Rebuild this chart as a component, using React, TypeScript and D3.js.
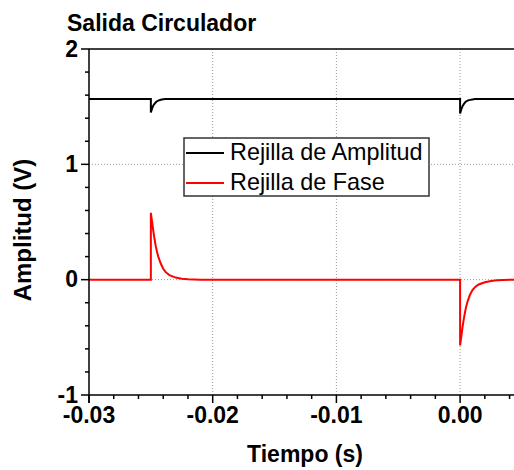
import React from "react";
import * as d3 from "d3";

const title = "Salida Circulador";
const xLabel = "Tiempo (s)";
const yLabel = "Amplitud (V)";
const seriesNames = ["Rejilla de Amplitud", "Rejilla de Fase"];
const seriesColors = ["#000000", "#ff0000"];

const xStart = -0.03;
const xEnd = 0.005;
const xMajorTicks = [-0.03, -0.02, -0.01, 0.0];
const xTickLabels = ["-0.03", "-0.02", "-0.01", "0.00"];
const xMinorTicks = [-0.028, -0.026, -0.024, -0.022, -0.018, -0.016, -0.014, -0.012, -0.008, -0.006, -0.004, -0.002, 0.002, 0.004];
const yMajorTicks = [-1, 0, 1, 2];
const yTickLabels = ["-1", "0", "1", "2"];
const yMinorTicks = [-0.8, -0.6, -0.4, -0.2, 0.2, 0.4, 0.6, 0.8, 1.2, 1.4, 1.6, 1.8];

// Pulse instants (s)
const pulseTimes = [-0.025, 0.0];
// Time offsets after each pulse (s)
const pulseOffsets = [0, 0.0001, 0.0002, 0.0003, 0.0004, 0.0005, 0.0006, 0.0008, 0.001, 0.0012, 0.0015, 0.002, 0.0025, 0.003, 0.004];

// Amplitude grating (black)
const ampBaseline = 1.567;
const ampPulse1 = [1.45, 1.485, 1.51, 1.525, 1.538, 1.547, 1.553, 1.56, 1.564, 1.566, 1.567, 1.567, 1.567, 1.567, 1.567];
const ampPulse2 = [1.44, 1.478, 1.505, 1.522, 1.536, 1.546, 1.552, 1.559, 1.563, 1.566, 1.567, 1.567, 1.567, 1.567, 1.567];

// Phase grating (red)
const phaseBaseline = 0;
const phasePulse1 = [0.58, 0.5, 0.42, 0.35, 0.29, 0.24, 0.2, 0.14, 0.095, 0.065, 0.04, 0.018, 0.008, 0.003, 0];
const phasePulse2 = [-0.57, -0.49, -0.41, -0.34, -0.28, -0.23, -0.19, -0.13, -0.09, -0.065, -0.042, -0.022, -0.012, -0.006, 0];

const W = 514;
const H = 470;
const left = 89;
const top = 49;
const bottom = 395;
const pxPerUnitX = 12370;

const FONT = "'Liberation Sans', Arial, Helvetica, sans-serif";

function buildSeries(baseline: number, pulses: number[][]): [number, number][] {
  const pts: [number, number][] = [[xStart, baseline]];
  pulseTimes.forEach((t0, i) => {
    pts.push([t0, baseline]);
    pulseOffsets.forEach((o, j) => pts.push([t0 + o, pulses[i][j]]));
  });
  pts.push([xEnd, baseline]);
  return pts;
}

export default function App() {
  const x = d3.scaleLinear().domain([xStart, xEnd]).range([left, left + (xEnd - xStart) * pxPerUnitX]);
  const y = d3.scaleLinear().domain([-1, 2]).range([bottom, top]);
  const line = d3
    .line<[number, number]>()
    .x((d) => x(d[0]))
    .y((d) => y(d[1]));

  const ampData = buildSeries(ampBaseline, [ampPulse1, ampPulse2]);
  const phaseData = buildSeries(phaseBaseline, [phasePulse1, phasePulse2]);

  const gridX = xMajorTicks.filter((v) => v !== xStart);
  const gridY = yMajorTicks.filter((v) => v !== -1 && v !== 2);

  const legX = 184;
  const legY = 138;
  const legW = 245;
  const legH = 58;

  return (
    <svg
      width={W}
      height={H}
      style={{ position: "fixed", left: 0, top: 0, background: "#fff" }}
      fontFamily={FONT}
    >
      <rect x={0} y={0} width={W} height={H} fill="#fff" />
      {/* grid */}
      {gridX.map((v) => (
        <line key={"gx" + v} x1={x(v)} x2={x(v)} y1={top} y2={bottom} stroke="#999" strokeWidth={1} strokeDasharray="1,2" />
      ))}
      {gridY.map((v) => (
        <line key={"gy" + v} x1={left} x2={W} y1={y(v)} y2={y(v)} stroke="#999" strokeWidth={1} strokeDasharray="1,2" />
      ))}

      {/* data */}
      <path d={line(ampData) || ""} fill="none" stroke={seriesColors[0]} strokeWidth={2} />
      <path d={line(phaseData) || ""} fill="none" stroke={seriesColors[1]} strokeWidth={2} />

      {/* axes */}
      <line x1={left} x2={W} y1={top} y2={top} stroke="#000" strokeWidth={1.5} />
      <line x1={left} x2={W} y1={bottom} y2={bottom} stroke="#000" strokeWidth={1.5} />
      <line x1={left} x2={left} y1={top} y2={bottom + 8} stroke="#000" strokeWidth={1.5} />
      {xMajorTicks.map((v) => (
        <line key={"xt" + v} x1={x(v)} x2={x(v)} y1={bottom} y2={bottom + 8} stroke="#000" strokeWidth={1.5} />
      ))}
      {xMinorTicks.map((v) => (
        <line key={"xm" + v} x1={x(v)} x2={x(v)} y1={bottom} y2={bottom + 4} stroke="#000" strokeWidth={1.5} />
      ))}
      {yMajorTicks.map((v) => (
        <line key={"yt" + v} x1={left - 8} x2={left} y1={y(v)} y2={y(v)} stroke="#000" strokeWidth={1.5} />
      ))}
      {yMinorTicks.map((v) => (
        <line key={"ym" + v} x1={left - 4} x2={left} y1={y(v)} y2={y(v)} stroke="#000" strokeWidth={1.5} />
      ))}

      {/* tick labels */}
      {xMajorTicks.map((v, i) => (
        <text key={"xl" + v} x={x(v)} y={bottom + 28} textAnchor="middle" fontSize={23} fontWeight="bold">
          {xTickLabels[i]}
        </text>
      ))}
      {yMajorTicks.map((v, i) => (
        <text key={"yl" + v} x={78} y={y(v)} dy="0.34em" textAnchor="end" fontSize={23} fontWeight="bold">
          {yTickLabels[i]}
        </text>
      ))}

      {/* titles */}
      <text x={67} y={31} fontSize={23} fontWeight="bold">
        {title}
      </text>
      <text x={305} y={462} textAnchor="middle" fontSize={23} fontWeight="bold">
        {xLabel}
      </text>
      <text transform="translate(31,230) rotate(-90)" textAnchor="middle" fontSize={24} fontWeight="bold">
        {yLabel}
      </text>

      {/* legend */}
      <rect x={legX} y={legY} width={legW} height={legH} fill="#fff" stroke="#333" strokeWidth={1.5} />
      {seriesNames.map((n, i) => (
        <g key={n}>
          <line x1={legX + 2} x2={legX + 40} y1={legY + 15 + i * 30} y2={legY + 15 + i * 30} stroke={seriesColors[i]} strokeWidth={2} />
          <text x={legX + 46} y={legY + 22 + i * 30} fontSize={23.4}>
            {n}
          </text>
        </g>
      ))}
    </svg>
  );
}
